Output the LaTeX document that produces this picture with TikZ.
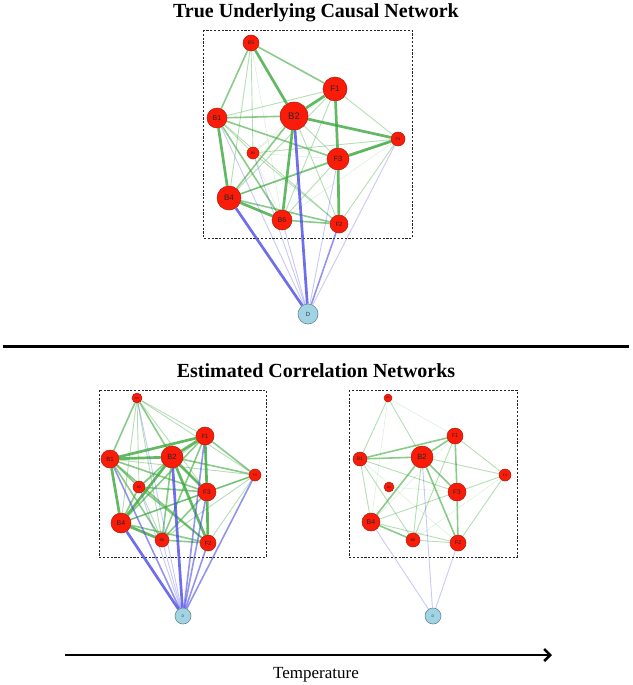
\documentclass[tikz,border=0pt]{standalone}
\usepackage{fontspec}
\setmainfont{Liberation Serif}
\setsansfont{Liberation Sans}
\usetikzlibrary{arrows.meta}
\pgfdeclarelayer{edges}
\pgfsetlayers{edges,main}
\definecolor{nred}{RGB}{250,28,8}
\definecolor{nredb}{RGB}{175,25,15}
\definecolor{dblue}{RGB}{160,212,228}
\definecolor{dblueb}{RGB}{105,135,145}
\definecolor{eg}{RGB}{60,168,60}
\definecolor{eb}{RGB}{75,75,230}
\tikzset{
  rn/.style={circle, fill=nred, draw=nredb, line width=0.5pt, inner sep=0pt, minimum size=#1, text=black!85},
  dn/.style={circle, fill=dblue, draw=dblueb, line width=0.6pt, inner sep=0pt, minimum size=#1, text=black!80},
  fz/.style={font=\sffamily\fontsize{#1}{#1}\selectfont},
  g0/.style={draw=eg, line width=0.5pt, draw opacity=0.2},
  g1/.style={draw=eg, line width=0.9pt, draw opacity=0.38},
  g2/.style={draw=eg, line width=1.6pt, draw opacity=0.6},
  g3/.style={draw=eg, line width=2.7pt, draw opacity=0.8},
  b1/.style={draw=eb, line width=0.9pt, draw opacity=0.3},
  b2/.style={draw=eb, line width=1.6pt, draw opacity=0.6},
  b3/.style={draw=eb, line width=2.7pt, draw opacity=0.8},
  dbox/.style={draw=black!85, dash pattern=on 2.2pt off 1.6pt, line width=0.8pt},
  title/.style={font=\bfseries\fontsize{20}{20}\selectfont, anchor=base}
}
\begin{document}
\begin{tikzpicture}[x=1pt,y=-1pt]
\useasboundingbox (0,0) rectangle (632,685);
% titles
\node[title] (t1) at (316,17.5) {True Underlying Causal Network};
\node[title] (t2) at (316,377) {Estimated Correlation Networks};
\coordinate (hl) at (3,346);
\coordinate (hr) at (629,346);
\draw[line width=3pt] (hl) -- (hr);
\coordinate (al) at (65,655);
\coordinate (ar) at (552,655);
\draw[line width=2.5pt, -{Straight Barb[length=6pt,width=12pt]}] (al) -- (ar);
\node[font=\fontsize{17}{17}\selectfont, anchor=base] (temp) at (316,678) {Temperature};

% ---- top network nodes
\node[rn=16, fz=5] (tB5) at (251,43) {B5};
\node[rn=24, fz=8] (tF1) at (335,89) {F1};
\node[rn=20, fz=7] (tB1) at (217,118) {B1};
\node[rn=28, fz=9.5] (tB2) at (294,116) {B2};
\node[rn=14, fz=4] (tF4) at (398,139) {F4};
\node[rn=12, fz=3.5] (tB3) at (253,153) {B3};
\node[rn=22, fz=7.5] (tF3) at (338,159) {F3};
\node[rn=24, fz=8] (tB4) at (229,198) {B4};
\node[rn=20, fz=7] (tB6) at (282,220) {B6};
\node[rn=18, fz=6] (tF2) at (339,224) {F2};
\node[dn=20, fz=6] (tD) at (308,314) {D};

% ---- bottom left nodes
\node[rn=10, fz=3] (lB5) at (137,398) {B5};
\node[rn=18, fz=6] (lF1) at (205,436) {F1};
\node[rn=18, fz=6] (lB1) at (110,459) {B1};
\node[rn=22, fz=7.5] (lB2) at (172,457) {B2};
\node[rn=12, fz=3.5] (lF4) at (255,475) {F4};
\node[rn=12, fz=3.5] (lB3) at (139,487) {B3};
\node[rn=18, fz=6.5] (lF3) at (207,492) {F3};
\node[rn=20, fz=7] (lB4) at (121,523) {B4};
\node[rn=14, fz=4] (lB6) at (162,540) {B6};
\node[rn=16, fz=6] (lF2) at (208,543) {F2};
\node[dn=16, fz=3.5] (lD) at (183,616) {D};

% ---- bottom right nodes
\node[rn=8, fz=2.5] (rB5) at (388,398) {B5};
\node[rn=16, fz=5.5] (rF1) at (455,436) {F1};
\node[rn=14, fz=5] (rB1) at (360,459) {B1};
\node[rn=22, fz=7.5] (rB2) at (422,457) {B2};
\node[rn=12, fz=3.5] (rF4) at (505,475) {F4};
\node[rn=10, fz=3] (rB3) at (389,487) {B3};
\node[rn=18, fz=6.5] (rF3) at (457,492) {F3};
\node[rn=18, fz=7] (rB4) at (371,522) {B4};
\node[rn=14, fz=4] (rB6) at (413,540) {B6};
\node[rn=16, fz=5.5] (rF2) at (458,543) {F2};
\node[dn=16, fz=3.5] (rD) at (433,616) {D};

\begin{pgfonlayer}{edges}
% boxes
\coordinate (tb1) at (203,30); \coordinate (tb2) at (412,238);
\coordinate (lb1) at (99,390); \coordinate (lb2) at (266,557);
\coordinate (rb1) at (349,390); \coordinate (rb2) at (517,557);
\draw[dbox] (tb1) rectangle (tb2);
\draw[dbox] (lb1) rectangle (lb2);
\draw[dbox] (rb1) rectangle (rb2);
% top edges
\foreach \a/\b/\s in {B5/B2/g3, B5/B1/g2, B5/F1/g2, B5/B4/g1, B5/B3/g1, B5/B6/g0,
  F1/B2/g3, F1/B1/g1, F1/F3/g3, F1/F4/g1, F1/B4/g1, F1/B6/g1, F1/B3/g0,
  B1/B2/g2, B1/B4/g3, B1/F3/g2, B1/B6/g2, B1/F2/g1, B1/B3/g1,
  B2/F4/g3, B2/B6/g3, B2/B4/g2, B2/F3/g1, B2/F2/g1, B2/B3/g0,
  F4/F3/g3, F4/B3/g1, F4/B4/g1, F4/F2/g1, F4/B6/g0,
  F3/F2/g3, F3/B4/g2, F3/B6/g1, F3/B3/g0,
  B4/B6/g3, B4/F2/g2, B6/F2/g2, B3/F2/g1, B3/B6/g0,
  B4/D/b3, B1/D/b1, B3/D/b1, B2/D/b3, B6/D/b1, F3/D/b1, F2/D/b2, F4/D/b1}
  \draw[\s] (t\a) -- (t\b);
% bottom left edges
\foreach \a/\b/\s in {B1/B2/g3, B1/F1/g3, B2/F1/g3, B1/B4/g3, B2/B4/g3, B2/F3/g3,
  B2/F2/g3, B2/B6/g2, F1/F3/g3, F3/F2/g3, B4/B6/g3, B4/F2/g2, B6/F2/g2, B4/F3/g2,
  B1/F3/g2, B1/B6/g2, B3/F3/g2, B5/B1/g2, B5/B2/g2, B5/F1/g1, B5/F4/g1, F1/F4/g2,
  B2/F4/g2, F3/F4/g2, F4/F2/g1, F4/B4/g1, B3/B1/g2, B3/B4/g2, B3/F2/g2, B3/B6/g1,
  F1/B4/g2, F1/B6/g2, F1/B3/g1, B1/F4/g1, B1/F2/g2, B5/B4/g1, B5/B3/g1, B5/B6/g1,
  B5/F3/g1, F3/B6/g2, B2/B3/g2, F4/B6/g1, F1/F2/g1,
  B4/D/b3, B1/D/b2, B3/D/b1, B5/D/b1, B2/D/b3, B6/D/b1, F1/D/b2, F3/D/b2, F2/D/b2, F4/D/b2}
  \draw[\s] (l\a) -- (l\b);
% bottom right edges
\foreach \a/\b/\s in {B5/B1/g1, B5/B2/g1, B5/F1/g0, B1/B2/g2, B1/F1/g2, B2/F1/g2,
  F1/F3/g2, F1/F4/g1, B2/F4/g1, F3/F4/g1, B1/F3/g1, B1/B4/g1, B2/B4/g2, B2/F3/g2,
  B2/F2/g2, B2/B6/g1, F3/F2/g2, B4/F3/g1, B4/B6/g2, B4/F2/g1, B6/F2/g1, F1/B6/g1,
  F1/B4/g0, F4/F2/g1, F4/B6/g0, B1/B6/g1, B3/F3/g0, B1/F2/g0, B5/B4/g0,
  B4/D/b1, B2/D/b1, F2/D/b1}
  \draw[\s] (r\a) -- (r\b);
\end{pgfonlayer}
\end{tikzpicture}
\end{document}
